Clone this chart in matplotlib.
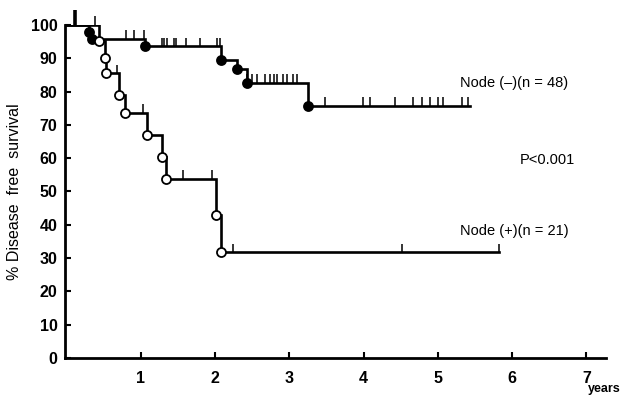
import matplotlib
matplotlib.use('Agg')
import matplotlib.pyplot as plt

# Node (-) group, n=48 (filled dots)
neg_times = [0, 0.30, 0.34, 1.05, 2.08, 2.29, 2.43, 3.25]
neg_surv = [100, 97.9, 95.8, 93.6, 89.6, 86.7, 82.6, 75.7]
neg_end = 5.43
neg_censor = [0.11, 0.80, 0.90, 1.04, 1.29, 1.31, 1.35, 1.45, 1.47, 1.61, 1.80, 2.03, 2.07,
              2.43, 2.50, 2.56, 2.67, 2.74, 2.79, 2.83, 2.91, 2.97, 3.05, 3.10,
              3.48, 3.99, 4.09, 4.42, 4.66, 4.78, 4.89, 5.00, 5.07, 5.32, 5.40]

# Node (+) group, n=21 (open circles)
pos_times = [0, 0.43, 0.52, 0.53, 0.70, 0.78, 1.08, 1.29, 1.34, 2.01, 2.08]
pos_surv = [100, 95.2, 90.0, 85.5, 79.0, 73.6, 67.0, 60.2, 53.8, 43.0, 31.7]
pos_end = 5.83
pos_censor = [0.38, 0.68, 1.03, 1.57, 1.96, 2.24, 4.51, 5.83]

yticks = [0, 10, 20, 30, 40, 50, 60, 70, 80, 90, 100]
xticks = [1, 2, 3, 4, 5, 6, 7]


def surv_at(times, surv, t):
    s = surv[0]
    for ti, si in zip(times, surv):
        if ti <= t:
            s = si
    return s


plt.rcParams['font.family'] = ['Liberation Sans', 'DejaVu Sans']

fig = plt.figure(figsize=(6.22, 4.01), dpi=100)
ax = fig.add_axes([0.1037, 0.107, 0.870, 0.831])

for times, surv, end, cens, face in [
        (neg_times, neg_surv, neg_end, neg_censor, 'black'),
        (pos_times, pos_surv, pos_end, pos_censor, 'white')]:
    ax.step(times + [end], surv + [surv[-1]], where='post', color='black',
            lw=1.9, solid_joinstyle='miter', zorder=2)
    ax.plot(times[1:], surv[1:], 'o', ms=6.5, mfc=face, mec='black', mew=1.3, zorder=3)
    for c in cens:
        s = surv_at(times, surv, c)
        first = c < 0.2
        ax.vlines(c, s, s + (4.5 if first else 2.6), color='black',
                  lw=2.6 if first else 1.1, zorder=2, clip_on=False)

ax.set_xlim(-0.03, 7.26)
ax.set_ylim(0, 100)
ax.set_xticks(xticks)
ax.set_yticks(yticks)
ax.set_xticklabels([str(v) for v in xticks], fontweight='bold', fontsize=11.5)
ax.set_yticklabels([str(v) for v in yticks], fontweight='bold', fontsize=11.5)
ax.tick_params(direction='in', length=4, width=1.5, pad=5)
ax.tick_params(axis='x', pad=9)
for side in ['top', 'right']:
    ax.spines[side].set_visible(False)
for side in ['left', 'bottom']:
    ax.spines[side].set_linewidth(2)

ax.set_ylabel('% Disease  free  survival', fontsize=11.5, labelpad=6)
fig.text(0.945, 0.015, 'years', fontsize=9, fontweight='bold', ha='left', va='bottom')

ax.text(5.30, 82.6, 'Node (\u2013)(n = 48)', fontsize=10.5, ha='left', va='center')
ax.text(6.10, 59.3, 'P<0.001', fontsize=10.5, ha='left', va='center')
ax.text(5.30, 38.1, 'Node (+)(n = 21)', fontsize=10.5, ha='left', va='center')

fig.savefig('out.png', dpi=100)
